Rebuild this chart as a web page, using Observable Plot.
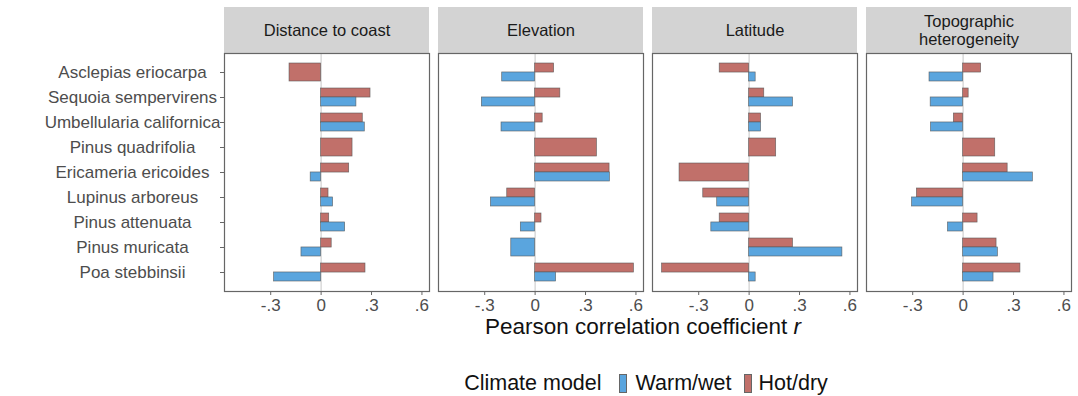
<!DOCTYPE html>
<html>
<head>
<meta charset="utf-8">
<script src="https://cdn.jsdelivr.net/npm/d3@7"></script>
<script src="https://cdn.jsdelivr.net/npm/@observablehq/plot@0.6"></script>
<style>
  body { margin: 0; background: #fff; font-family: "Liberation Sans", Arial, Helvetica, sans-serif; }
  #wrap { position: relative; width: 1078px; height: 396px; }
  #xlabel { position: absolute; top: 313px; left: 223px; width: 840px; text-align: center; font-size: 22.5px; line-height: 28px; color: #111; }
  #legend { position: absolute; top: 369px; left: 223px; width: 846px; height: 28px; display: flex; justify-content: center; align-items: center; font-size: 21.5px; color: #111; }
  .key { display: inline-block; width: 6px; height: 17px; border: 0.7px solid #666; }
</style>
</head>
<body>
<div id="wrap">
  <div id="chart"></div>
  <div id="xlabel">Pearson correlation coefficient <i>r</i></div>
  <div id="legend">
    <span>Climate model</span>
    <span class="key" style="background:#5aa5de;margin-left:17px;"></span>
    <span style="margin-left:9px;">Warm/wet</span>
    <span class="key" style="background:#c1706a;margin-left:12px;"></span>
    <span style="margin-left:7px;">Hot/dry</span>
  </div>
</div>
<script>
const species = [
  "Asclepias eriocarpa", "Sequoia sempervirens", "Umbellularia californica",
  "Pinus quadrifolia", "Ericameria ericoides", "Lupinus arboreus",
  "Pinus attenuata", "Pinus muricata", "Poa stebbinsii"
];
const variables = ["Distance to coast", "Elevation", "Latitude", "Topographic heterogeneity"];
const stripLabels = ["Distance to coast", "Elevation", "Latitude", "Topographic\nheterogeneity"];
const models = ["Warm/wet", "Hot/dry"];
const xTicks = [-0.3, 0, 0.3, 0.6];

// values per species (same order as `species`); null = no bar
const warmWetDistance = [null, 0.21, 0.26, null, -0.062, 0.071, 0.143, -0.117, -0.28];
const hotDryDistance  = [-0.188, 0.294, 0.248, 0.187, 0.167, 0.044, 0.048, 0.063, 0.264];
const warmWetElevation = [-0.196, -0.317, -0.2, null, 0.445, -0.263, -0.085, -0.142, 0.125];
const hotDryElevation  = [0.113, 0.15, 0.045, 0.368, 0.443, -0.166, 0.038, null, 0.588];
const warmWetLatitude = [0.039, 0.261, 0.071, null, null, -0.19, -0.225, 0.555, 0.039];
const hotDryLatitude  = [-0.175, 0.09, 0.071, 0.161, -0.414, -0.273, -0.175, 0.261, -0.518];
const warmWetTopo = [-0.2, -0.193, -0.191, null, 0.415, -0.304, -0.09, 0.207, 0.181];
const hotDryTopo  = [0.107, 0.033, -0.055, 0.191, 0.265, -0.275, 0.086, 0.199, 0.341];

const warmSeries = [warmWetDistance, warmWetElevation, warmWetLatitude, warmWetTopo];
const hotSeries = [hotDryDistance, hotDryElevation, hotDryLatitude, hotDryTopo];

const rows = [];
variables.forEach((v, j) => {
  species.forEach((s, i) => {
    const w = warmSeries[j][i], h = hotSeries[j][i];
    const n = (w != null ? 1 : 0) + (h != null ? 1 : 0);
    if (h != null) rows.push({variable: v, species: s, model: "Hot/dry", r: h, n});
    if (w != null) rows.push({variable: v, species: s, model: "Warm/wet", r: w, n});
  });
});

const W = 1078, H = 320, MT = 53, MB = 29, ML = 223, MR = 7;
const frameH = H - MT - MB;
const yPad = 0.3;
const bw = frameH / (species.length - yPad + 2 * yPad) * (1 - yPad);
const stripH = 46;

const barStyle = {fx: "variable", y: "species", x: "r", fill: "model", stroke: "#555", strokeOpacity: 0.8, strokeWidth: 0.7};
const fmt = d => d === 0 ? "0" : (d < 0 ? "-" : "") + String(Math.abs(d)).replace(/^0/, "");

const chart = Plot.plot({
  width: W, height: H,
  marginTop: MT, marginBottom: MB, marginLeft: ML, marginRight: MR,
  style: {fontFamily: '"Liberation Sans", Arial, Helvetica, sans-serif', background: "#fff"},
  fx: {domain: variables, axis: null, paddingInner: 0.0435, paddingOuter: 0, label: null},
  x: {domain: [-0.575, 0.645], label: null},
  y: {domain: species, padding: yPad, label: null},
  color: {domain: models, range: ["#5aa5de", "#c1706a"]},
  marks: [
    Plot.rect(variables, {fx: d => d, fill: "#d3d3d3", insetTop: -stripH, insetBottom: frameH}),
    Plot.text(variables, {fx: d => d, text: (d, i) => stripLabels[i], frameAnchor: "top", dy: -stripH / 2, lineAnchor: "middle", fontSize: 16.5, fill: "#1a1a1a", lineHeight: 1.05}),
    Plot.ruleX([0], {stroke: "#d0d0d0", strokeWidth: 1.2}),
    Plot.barX(rows.filter(d => d.n === 2 && d.model === "Hot/dry"), {...barStyle, insetBottom: bw / 2}),
    Plot.barX(rows.filter(d => d.n === 2 && d.model === "Warm/wet"), {...barStyle, insetTop: bw / 2}),
    Plot.barX(rows.filter(d => d.n === 1), barStyle),
    Plot.frame({stroke: "#666", strokeWidth: 1.2}),
    Plot.axisY({tickSize: 4, tickPadding: 88, textAnchor: "middle", fontSize: 17, fill: "#4d4d4d", stroke: "#666", label: null}),
    Plot.axisX({ticks: xTicks, tickFormat: fmt, tickSize: 4, tickPadding: 3, fontSize: 17, fill: "#4d4d4d", stroke: "#666", label: null})
  ]
});
document.getElementById("chart").appendChild(chart);
</script>
</body>
</html>
